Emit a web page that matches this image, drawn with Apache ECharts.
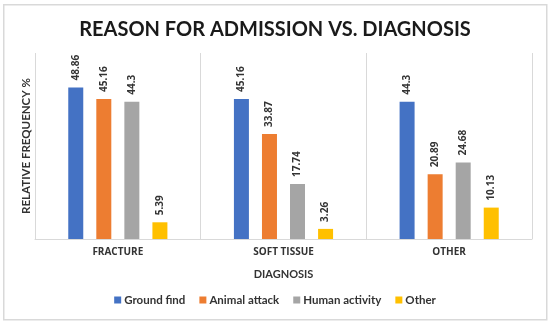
<!DOCTYPE html>
<html>
<head>
<meta charset="utf-8">
<script src="https://cdn.jsdelivr.net/npm/echarts@6/dist/echarts.min.js"></script>
<style>html,body{margin:0;padding:0;background:#fff;}#c{width:550px;height:325px;}</style>
</head>
<body>
<div id="c"></div>
<script>
const categories = ['FRACTURE', 'SOFT TISSUE', 'OTHER'];
const seriesNames = ['Ground find', 'Animal attack', 'Human activity', 'Other'];
const groundFind = [48.86, 45.16, 44.3];
const animalAttack = [45.16, 33.87, 20.89];
const humanActivity = [44.3, 17.74, 24.68];
const other = [5.39, 3.26, 10.13];
const colors = ['#4472C4', '#ED7D31', '#A5A5A5', '#FFC000'];

const FONT = 'Lato';
const FONT2 = 'Open Sans';
const allData = [groundFind, animalAttack, humanActivity, other];
const chart = echarts.init(document.getElementById('c'), null, {renderer: 'canvas'});
chart.setOption({
  animation: false,
  color: colors,
  graphic: [{
    type: 'rect', left: 3, top: 4, z: -1,
    shape: {width: 543, height: 315},
    style: {fill: '#fff', stroke: '#d9d9d9', lineWidth: 1.5}
  }],
  title: {
    text: 'REASON FOR ADMISSION VS. DIAGNOSIS',
    left: 'center', top: 15,
    textStyle: {fontFamily: FONT, fontWeight: 'bold', fontSize: 20, color: '#1a1a1a'}
  },
  grid: {left: 35, right: 18, top: 53, bottom: 86, containLabel: false},
  legend: {
    data: seriesNames, bottom: 14, left: 'center',
    icon: 'rect', itemWidth: 7, itemHeight: 7, itemGap: 14,
    textStyle: {fontFamily: FONT, fontSize: 11.5, fontWeight: 'bold', color: '#333333', padding: [0, 0, 0, -2]}
  },
  xAxis: {
    type: 'category', data: categories,
    name: 'DIAGNOSIS', nameLocation: 'middle', nameGap: 30,
    nameTextStyle: {fontFamily: FONT, fontSize: 11, fontWeight: 'bold', color: '#333333'},
    axisLine: {lineStyle: {color: '#d9d9d9'}},
    axisTick: {show: false},
    axisLabel: {fontFamily: FONT2, fontSize: 10, fontWeight: 'bold', color: '#333333', margin: 8},
    splitLine: {show: true, lineStyle: {color: '#d9d9d9'}}
  },
  yAxis: {
    type: 'value', min: 0, max: 60,
    name: 'RELATIVE FREQUENCY %', nameLocation: 'middle', nameGap: 3,
    nameTextStyle: {fontFamily: FONT, fontSize: 11.5, fontWeight: 'bold', color: '#333333'},
    axisLine: {show: false}, axisTick: {show: false}, axisLabel: {show: false},
    splitLine: {show: false}
  },
  series: seriesNames.map((n, i) => ({
    name: n, type: 'bar', data: allData[i],
    barWidth: 15, barGap: '87%',
    label: {
      show: true, position: 'top', rotate: 90, align: 'left', verticalAlign: 'middle',
      distance: 7, fontFamily: FONT2, fontSize: 10, fontWeight: 'bold', color: '#333333'
    }
  }))
});
</script>
</body>
</html>
